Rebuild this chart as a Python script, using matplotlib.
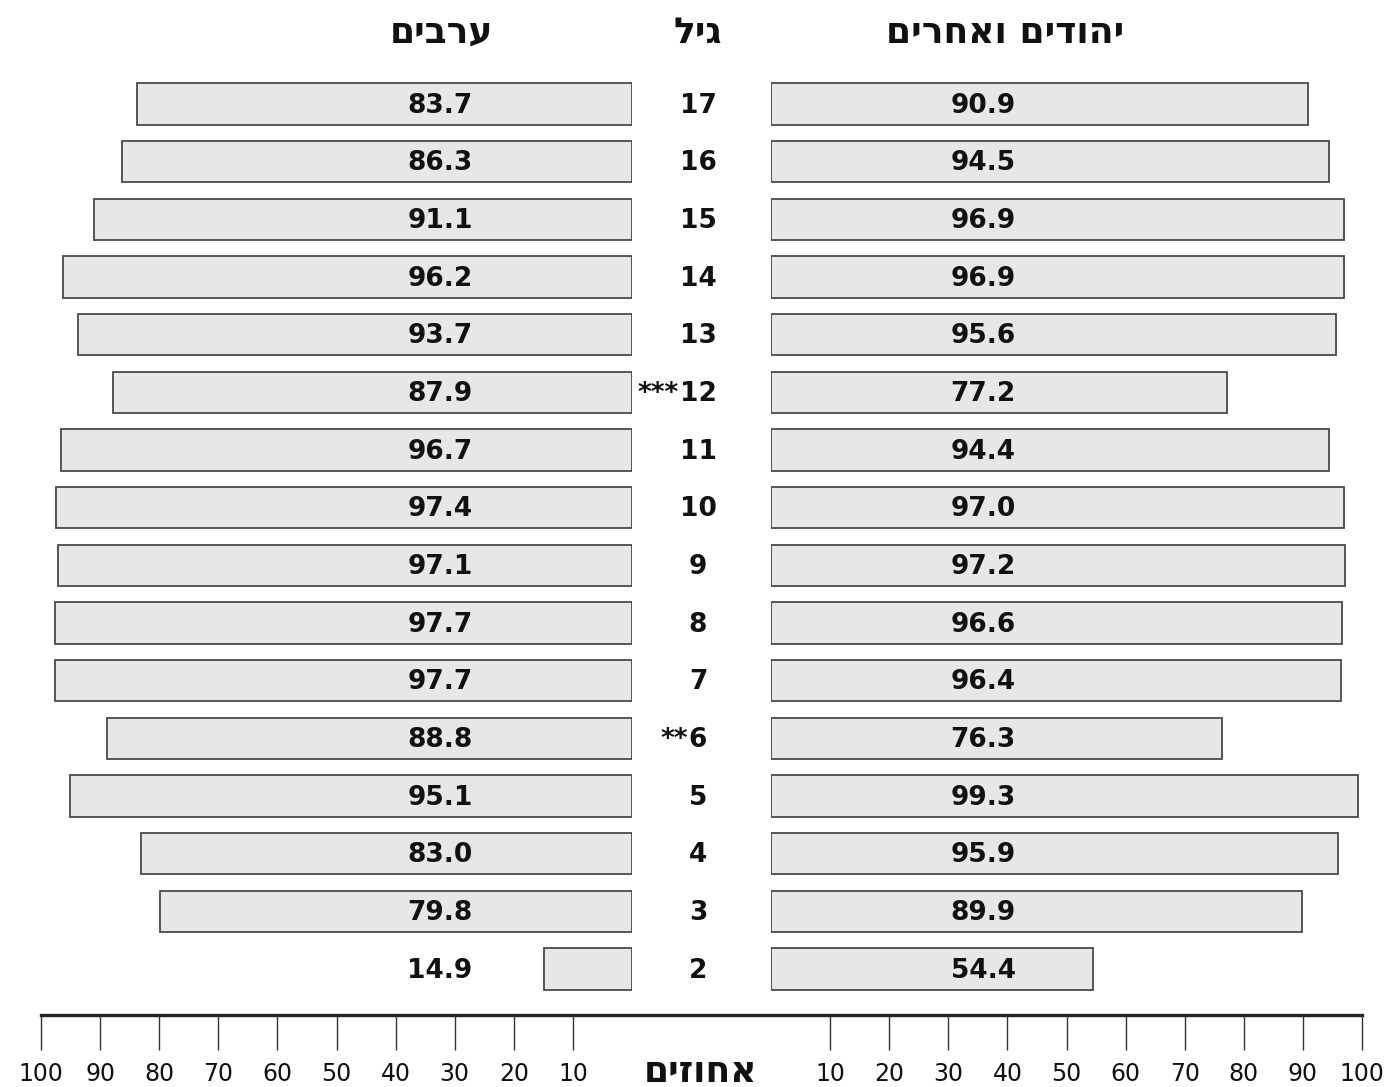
import numpy as np
import matplotlib.pyplot as plt

ages = [17, 16, 15, 14, 13, 12, 11, 10, 9, 8, 7, 6, 5, 4, 3, 2]
arabs = [83.7, 86.3, 91.1, 96.2, 93.7, 87.9, 96.7, 97.4, 97.1, 97.7, 97.7, 88.8, 95.1, 83.0, 79.8, 14.9]
jews = [90.9, 94.5, 96.9, 96.9, 95.6, 77.2, 94.4, 97.0, 97.2, 96.6, 96.4, 76.3, 99.3, 95.9, 89.9, 54.4]
stars = ['', '', '', '', '', '***', '', '', '', '', '', '**', '', '', '', '']
ticks = [10, 20, 30, 40, 50, 60, 70, 80, 90, 100]


def heb(s):
    # matplotlib has no bidi support, so flip hebrew by hand
    return s[::-1]


title_left = heb('ערבים')
title_mid = heb('גיל')
title_right = heb('יהודים ואחרים')
x_label = heb('אחוזים')

FILL = '#e6e7e8'
EDGE = '#4a4a4a'
INK = '#111111'
plt.rcParams['font.family'] = ['DejaVu Sans']

W, H = 1390, 1087
fig = plt.figure(figsize=(W / 100, H / 100), dpi=100)

y_bot, y_top = 1.202, 17.59
ax_bottom = 1 - 1015 / H
ax_height = (1015 - 70) / H

# one axes just for the continuous baseline under both halves
ax_base = fig.add_axes([41 / W, ax_bottom, 1321 / W, ax_height])
ax_base.set_xticks([])
ax_base.set_yticks([])
for side in ('top', 'left', 'right'):
    ax_base.spines[side].set_visible(False)
ax_base.spines['bottom'].set_linewidth(2.4)
ax_base.spines['bottom'].set_color('#222222')
ax_base.patch.set_alpha(0)

ax_l = fig.add_axes([41 / W, ax_bottom, 591 / W, ax_height])
ax_m = fig.add_axes([632 / W, ax_bottom, 139 / W, ax_height])
ax_r = fig.add_axes([771 / W, ax_bottom, 591 / W, ax_height])

for ax in (ax_l, ax_m, ax_r):
    ax.set_ylim(y_bot, y_top)
    ax.set_yticks([])
    for side in ('top', 'left', 'right', 'bottom'):
        ax.spines[side].set_visible(False)
    ax.patch.set_alpha(0)

ax_l.set_xlim(100, 0)
ax_r.set_xlim(0, 100)
ax_m.set_xlim(0, 1)
ax_m.set_xticks([])

bar_h = 0.72
ax_l.barh(ages, arabs, height=bar_h, color=FILL, edgecolor=EDGE, linewidth=1.3)
ax_r.barh(ages, jews, height=bar_h, color=FILL, edgecolor=EDGE, linewidth=1.3)

for ax in (ax_l, ax_r):
    ax.set_xticks(ticks)
    ax.set_xticklabels([str(t) for t in ticks])
    ax.tick_params(axis='x', direction='out', length=25, width=1.0, color='#333333',
                   pad=9, labelsize=17, labelcolor=INK)

lbl_left_x = 32.5
lbl_right_x = 35.9
for age, a, j, s in zip(ages, arabs, jews, stars):
    ax_l.text(lbl_left_x, age - 0.03, f'{a:.1f}', ha='center', va='center',
              fontsize=19, fontweight='bold', color=INK)
    ax_r.text(lbl_right_x, age - 0.03, f'{j:.1f}', ha='center', va='center',
              fontsize=19, fontweight='bold', color=INK)
    ax_m.text(0.475, age - 0.03, str(age), ha='center', va='center',
              fontsize=19, fontweight='bold', color=INK)
    if s:
        ax_m.annotate(s, (0.475, age), xytext=(-len(str(age)) * 6.5 - 0.5, -1),
                      textcoords='offset points', ha='right', va='center',
                      fontsize=19, fontweight='bold', color=INK)

head_y = 18.23
ax_l.text(32.3, head_y, title_left, ha='center', va='center', fontsize=26,
          fontweight='bold', color=INK, clip_on=False)
ax_m.text(0.475, head_y, title_mid, ha='center', va='center', fontsize=26,
          fontweight='bold', color=INK, clip_on=False)
ax_r.text(39.6, head_y, title_right, ha='center', va='center', fontsize=26,
          fontweight='bold', color=INK, clip_on=False)

ax_m.text(0.49, -0.06, x_label, transform=ax_m.transAxes, ha='center', va='center',
          fontsize=26, fontweight='bold', color=INK, clip_on=False)

fig.savefig('out.png', dpi=100)
